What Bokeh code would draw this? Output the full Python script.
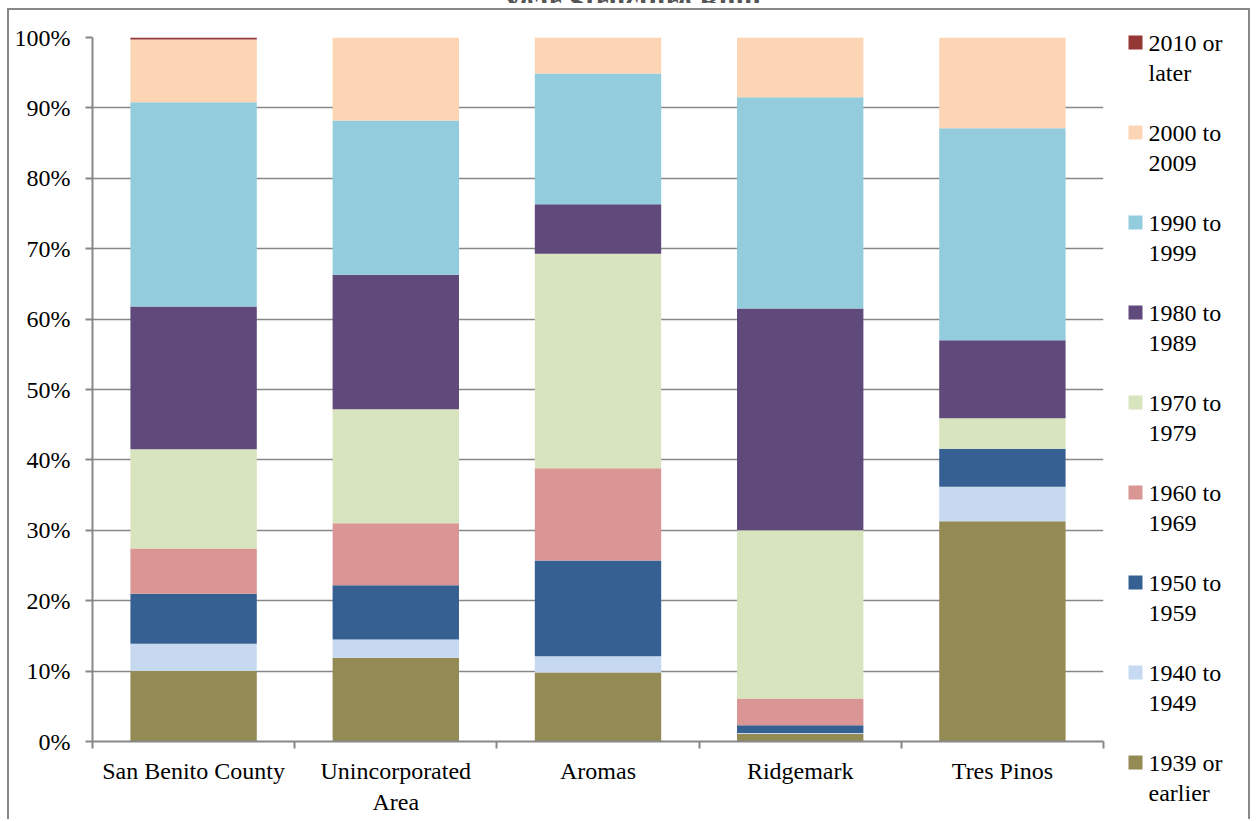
from bokeh.plotting import figure
from bokeh.models import ColumnDataSource, Range1d, FixedTicker, Div
from bokeh.layouts import column, row
from bokeh.embed import file_html
from bokeh.resources import INLINE

# Share of housing units by year structure built (percent)
places = ["San Benito County", "Unincorporated\nArea", "Aromas", "Ridgemark", "Tres Pinos"]

periods = ["1939 or\nearlier", "1940 to\n1949", "1950 to\n1959", "1960 to\n1969",
           "1970 to\n1979", "1980 to\n1989", "1990 to\n1999", "2000 to\n2009",
           "2010 or\nlater"]

built_1939_or_earlier = [10.0, 11.9, 9.8, 1.1, 31.3]
built_1940_1949 = [3.9, 2.6, 2.3, 0.1, 4.9]
built_1950_1959 = [7.1, 7.7, 13.6, 1.1, 5.4]
built_1960_1969 = [6.4, 8.8, 13.1, 3.8, 0.0]
built_1970_1979 = [14.1, 16.2, 30.5, 23.9, 4.3]
built_1980_1989 = [20.3, 19.1, 7.0, 31.5, 11.1]
built_1990_1999 = [29.0, 21.9, 18.6, 30.0, 30.1]
built_2000_2009 = [8.9, 11.8, 5.1, 8.5, 12.9]
built_2010_or_later = [0.3, 0.0, 0.0, 0.0, 0.0]

colors = ["#948A54", "#C6D9F1", "#376092", "#D99694", "#D7E4BD",
          "#604A7B", "#93CDDD", "#FCD5B5", "#953735"]

title_text = "Year Structure Built"

FONT = "Liberation Serif"
GREY = "#878787"
BORDER = f"2px solid {GREY}"

series = [built_1939_or_earlier, built_1940_1949, built_1950_1959, built_1960_1969,
          built_1970_1979, built_1980_1989, built_1990_1999, built_2000_2009,
          built_2010_or_later]
keys = [f"s{i}" for i in range(len(series))]

data = {"x": [i + 0.5 for i in range(len(places))]}
for k, vals in zip(keys, series):
    data[k] = [v / 100.0 for v in vals]
source = ColumnDataSource(data)

# ---- main stacked-bar chart ----
H = 811
p = figure(width=1104, height=H, output_backend="svg", toolbar_location=None,
           x_range=Range1d(0, len(places)), y_range=Range1d(0, 1),
           min_border_left=83, min_border_right=10, min_border_top=27,
           min_border_bottom=80, outline_line_color=None,
           background_fill_color="white", border_fill_color="white")
p.frame_align = False
p.styles = {"border-left": BORDER, "border-top": BORDER}

p.vbar_stack(keys, x="x", width=0.625, source=source, color=colors, line_color=None)

# x axis: labels at bar centres, tick marks at category boundaries
xa = p.xaxis[0]
xa.ticker = FixedTicker(ticks=data["x"], minor_ticks=list(range(len(places) + 1)))
xa.major_label_overrides = {x: name for x, name in zip(data["x"], places)}
xa.major_tick_out = 0
xa.major_tick_in = 0
xa.minor_tick_out = 7
xa.minor_tick_in = 0
xa.minor_tick_line_color = GREY
xa.minor_tick_line_width = 2
xa.axis_line_color = GREY
xa.axis_line_width = 2
xa.major_label_standoff = 9
xa.major_label_text_font = FONT
xa.major_label_text_font_size = "24px"
xa.major_label_text_color = "black"
xa.major_label_text_line_height = 1.2

ticks_y = [i / 10 for i in range(11)]
ya = p.yaxis[0]
ya.ticker = FixedTicker(ticks=ticks_y, minor_ticks=[])
ya.major_label_overrides = {t: f"{round(t * 100)}%" for t in ticks_y}
ya.major_tick_out = 7
ya.major_tick_in = 0
ya.major_tick_line_color = GREY
ya.major_tick_line_width = 2
ya.axis_line_color = GREY
ya.axis_line_width = 2
ya.major_label_standoff = 15
ya.major_label_text_font = FONT
ya.major_label_text_font_size = "24px"
ya.major_label_text_color = "black"

p.xgrid.visible = False
p.ygrid.ticker = FixedTicker(ticks=ticks_y)
p.ygrid.grid_line_color = GREY
p.ygrid.grid_line_width = 1.5

# ---- legend panel (pixel-like coordinates, y downwards), newest period on top ----
LW = 139
leg = figure(width=LW, height=H, output_backend="svg", toolbar_location=None,
             x_range=Range1d(0, LW), y_range=Range1d(H, 0),
             min_border=0, outline_line_color=None,
             background_fill_color="white", border_fill_color="white")
leg.frame_align = False
leg.axis.visible = False
leg.grid.visible = False
leg.styles = {"border-top": BORDER, "border-right": BORDER}

n = len(periods)
order = list(range(n))[::-1]
row_y = [32 + 90 * i for i in range(n)]
leg_src = ColumnDataSource(dict(
    y=row_y,
    ty=[y - 13 for y in row_y],
    label=[periods[j] for j in order],
    color=[colors[j] for j in order],
))
leg.rect(x=24, y="y", width=14, height=14, color="color", line_color=None, source=leg_src)
leg.text(x=37, y="ty", text="label", source=leg_src, text_font=FONT,
         text_font_size="24px", text_color="black", text_baseline="top",
         text_align="left", text_line_height=1.17)

chart = row(p, leg, spacing=0)
chart.margin = (5, 0, 0, 7)

# chart title; only its lower edge shows above the frame
title = Div(text=f'<div style="margin-top:-32px;text-align:center;width:1264px;'
                 f'font-family:{FONT};font-size:30px;font-weight:bold;color:#555555;'
                 f'white-space:nowrap;">{title_text}</div>',
            width=1256, height=3, margin=0, styles={"overflow": "hidden"})

layout = column(title, chart, spacing=0)

open("out.html", "w").write(file_html(layout, INLINE))
